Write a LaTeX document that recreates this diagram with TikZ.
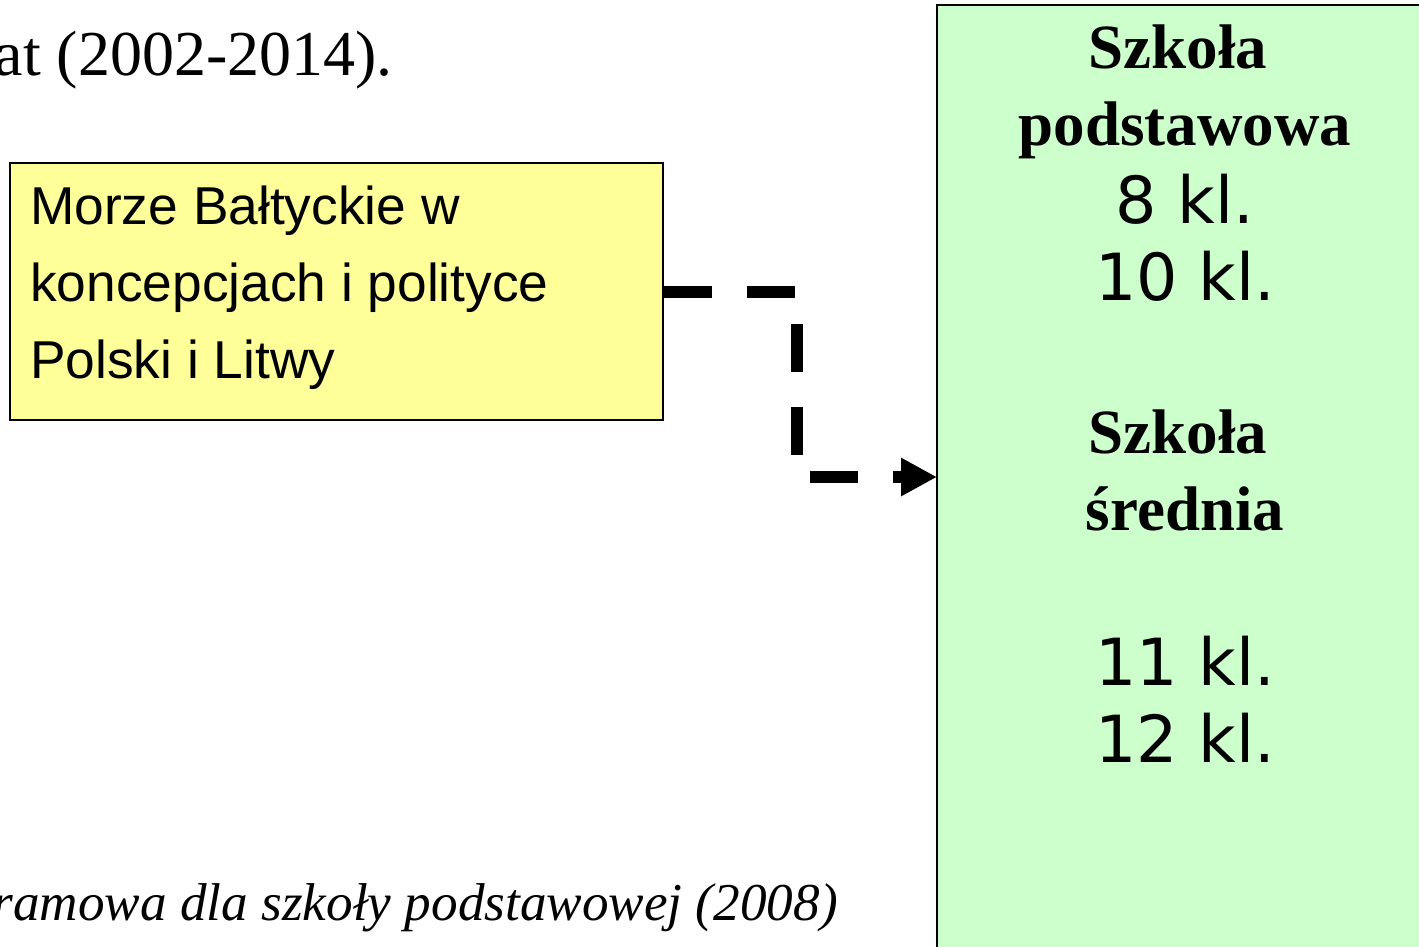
\documentclass[tikz,border=0pt]{standalone}
\usepackage{fontspec}
\setmainfont{Liberation Serif}
\newfontfamily\arialf{Liberation Sans}
\newfontfamily\dejav{DejaVu Sans}
\usetikzlibrary{arrows.meta}
\definecolor{yboxfill}{HTML}{FFFF99}
\definecolor{gboxfill}{HTML}{CCFFCC}
\tikzset{
  ybox/.style={draw=black, line width=1.6pt, fill=yboxfill, inner sep=0pt, minimum width=653pt, minimum height=257pt},
  gbox/.style={draw=black, line width=2pt, fill=gboxfill, inner sep=0pt, minimum width=500pt, minimum height=960pt},
  btext/.style={inner sep=0pt, anchor=base west, font=\arialf\fontsize{53.3}{60}\selectfont},
  shead/.style={inner sep=0pt, anchor=base, font=\bfseries\fontsize{63}{70}\selectfont},
  sclass/.style={inner sep=0pt, anchor=base, font=\dejav\fontsize{65}{72}\selectfont},
  serift/.style={inner sep=0pt, anchor=base east, font=\fontsize{64}{70}\selectfont},
  conn/.style={line width=12pt, dash pattern=on 48pt off 35pt, -{Triangle[length=36pt,width=36pt]}}
}
\begin{document}
\begin{tikzpicture}[x=1pt,y=-1pt]
\useasboundingbox (0,0) rectangle (1419,946);
\begin{scope}
\clip (0,0) rectangle (1419,946);
% top text line (cut off at the left edge, as in the reference)
\node[serift] (toptext) at (393,75) {at (2002-2014).};
% bottom text (cut off)
\node[serift, font=\itshape\fontsize{53.2}{60}\selectfont] (bottomtext) at (838,920) {ramowa dla szkoły podstawowej (2008)};
% yellow box
\node[ybox] (baltic) at (336.5,291.5) {};
\node[btext] (bl1) at (30,224) {Morze Bałtyckie w};
\node[btext] (bl2) at (30,301) {koncepcjach i polityce};
\node[btext] (bl3) at (30,378) {Polski i Litwy};
% green box
\node[gbox] (school) at (1187,485) {};
\node[shead] (s1) at (1178,68) {Szkoła};
\node[shead] (s2) at (1185,145) {podstawowa};
\node[sclass] (c8) at (1185,223) {8 kl.};
\node[sclass] (c10) at (1185,300) {10 kl.};
\node[shead] (s3) at (1178,453) {Szkoła};
\node[shead] (s4) at (1185,530) {średnia};
\node[sclass] (c11) at (1185,685) {11 kl.};
\node[sclass] (c12) at (1185,762) {12 kl.};
% connector
\coordinate (entry) at (937,477);
\draw[conn] (baltic.east) -- (797,291.5) |- (entry);
\end{scope}
\end{tikzpicture}
\end{document}
